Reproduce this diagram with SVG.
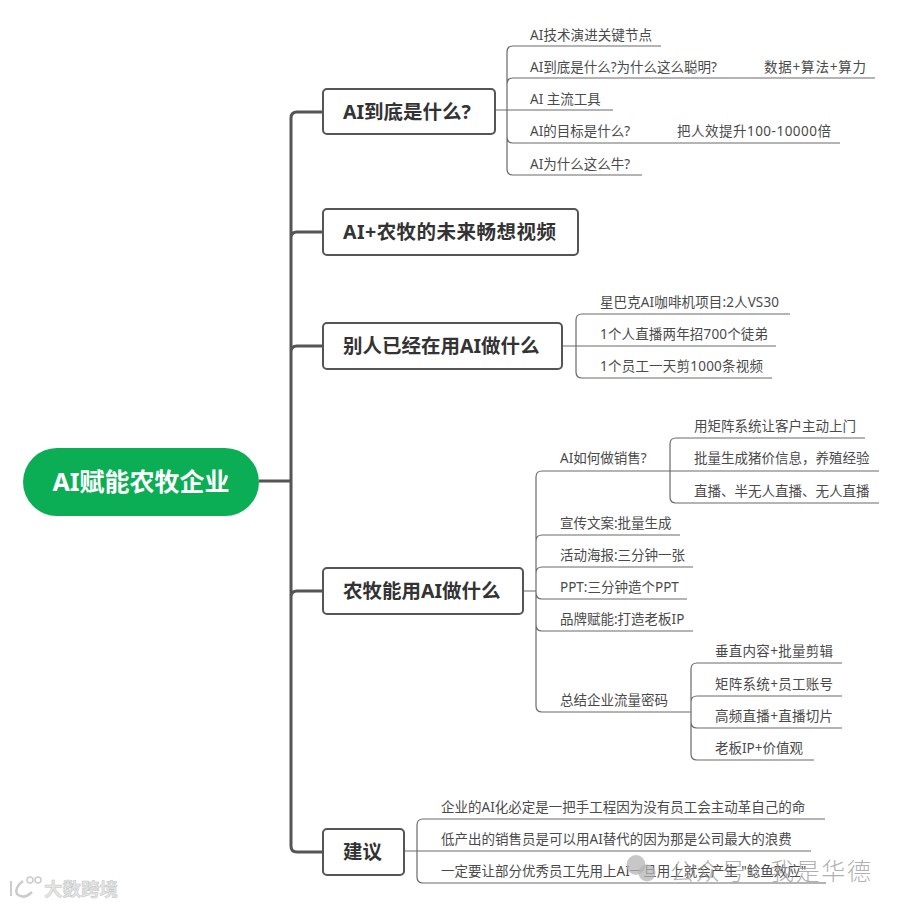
<svg xmlns="http://www.w3.org/2000/svg" width="900" height="906" viewBox="0 0 900 906">
<style>
text{font-family:"Noto Sans","Noto Sans CJK SC",sans-serif}
.t{font-size:13.5px;fill:#4a4a4a}
.h{font-size:19.5px;font-weight:700;fill:#333}
.n{fill:#fff;stroke:#555;stroke-width:2}
.l{fill:none;stroke:#6a6a6a;stroke-width:1.2}
.m{fill:none;stroke:#555;stroke-width:3}
</style>
<rect width="900" height="906" fill="#fff"/>
<g id="connectors">
<path class="m" d="M323 112H297Q291 112 291 118V846Q291 852 297 852H323M291 238Q291 232 297 232H323M291 352Q291 346 297 346H323M291 597Q291 591 297 591H323M259 481H291"/>
<path class="l" d="M495 110H613M661 46H513Q507 46 507 52V169Q507 175 513 175H642M507 84Q507 78 513 78H875M507 137Q507 143 513 143H840"/>
<path class="l" d="M562 346H776M790 314H582Q576 314 576 320V372Q576 378 582 378H772"/>
<path class="l" d="M523 591H536M879 471H542Q536 471 536 477V706Q536 712 542 712H691M536 541Q536 535 542 535H680M536 573Q536 567 542 567H693M536 593Q536 599 542 599H687M536 625Q536 631 542 631H693"/>
<path class="l" d="M865 438H676Q670 438 670 444V497Q670 503 676 503H879"/>
<path class="l" d="M842 663H697Q691 663 691 669V754Q691 760 697 760H814M691 702Q691 696 697 696H842M691 722Q691 728 697 728H842"/>
<path class="l" d="M404 851H811M825 819H423Q417 819 417 825V877Q417 883 423 883H826"/>
</g>
<g id="root"><rect x="23" y="448" width="236" height="68" rx="34" fill="#0bae55"/><text x="141" y="491" text-anchor="middle" font-size="25" font-weight="700" fill="#fff">AI赋能农牧企业</text></g>
<g id="n1"><rect class="n" x="323" y="89" width="172" height="45" rx="4"/><text class="h" x="343" y="119">AI到底是什么?</text></g>
<g id="n2"><rect class="n" x="323" y="209" width="255" height="46" rx="4"/><text class="h" x="343" y="239" textLength="213">AI+农牧的未来畅想视频</text></g>
<g id="n3"><rect class="n" x="323" y="323" width="239" height="46" rx="4"/><text class="h" x="343" y="353">别人已经在用AI做什么</text></g>
<g id="n4"><rect class="n" x="323" y="568" width="200" height="46" rx="4"/><text class="h" x="343" y="598">农牧能用AI做什么</text></g>
<g id="n5"><rect class="n" x="323" y="829" width="81" height="46" rx="4"/><text class="h" x="343" y="859">建议</text></g>
<g id="n1-children">
<text class="t" x="530" y="40" textLength="122">AI技术演进关键节点</text>
<text class="t" x="530" y="72">AI到底是什么?为什么这么聪明?</text>
<text class="t" x="764" y="72" textLength="102">数据+算法+算力</text>
<text class="t" x="530" y="104">AI 主流工具</text>
<text class="t" x="530" y="136">AI的目标是什么?</text>
<text class="t" x="677" y="136" textLength="154">把人效提升100-10000倍</text>
<text class="t" x="530" y="169">AI为什么这么牛?</text>
</g>
<g id="n3-children">
<text class="t" x="600" y="307" textLength="179">星巴克AI咖啡机项目:2人VS30</text>
<text class="t" x="600" y="339" textLength="168">1个人直播两年招700个徒弟</text>
<text class="t" x="600" y="371" textLength="163">1个员工一天剪1000条视频</text>
</g>
<g id="n4-children">
<text class="t" x="560" y="463">AI如何做销售?</text>
<text class="t" x="560" y="528">宣传文案:批量生成</text>
<text class="t" x="560" y="560">活动海报:三分钟一张</text>
<text class="t" x="560" y="592">PPT:三分钟造个PPT</text>
<text class="t" x="560" y="624">品牌赋能:打造老板IP</text>
<text class="t" x="560" y="705">总结企业流量密码</text>
<text class="t" x="694" y="431">用矩阵系统让客户主动上门</text>
<text class="t" x="694" y="463">批量生成猪价信息，养殖经验</text>
<text class="t" x="694" y="496">直播、半无人直播、无人直播</text>
<text class="t" x="715" y="656" textLength="118">垂直内容+批量剪辑</text>
<text class="t" x="715" y="689" textLength="118">矩阵系统+员工账号</text>
<text class="t" x="715" y="721" textLength="118">高频直播+直播切片</text>
<text class="t" x="715" y="753">老板IP+价值观</text>
</g>
<g id="n5-children">
<text class="t" x="441" y="812">企业的AI化必定是一把手工程因为没有员工会主动革自己的命</text>
<text class="t" x="441" y="844">低产出的销售员是可以用AI替代的因为那是公司最大的浪费</text>
<text class="t" x="441" y="876">一定要让部分优秀员工先用上AI一旦用上就会产生 "鲶鱼效应"</text>
</g>
<g id="watermarks">
<ellipse cx="636" cy="865" rx="9.5" ry="10" fill="#b4b4b4" fill-opacity=".75"/><ellipse cx="647" cy="873" rx="8.5" ry="8.5" fill="#b4b4b4" fill-opacity=".75"/>
<text x="670" y="880" font-size="24" font-weight="300" fill="#9a9a9a" fill-opacity=".8" textLength="201">公众号 · 我是华德</text>
<g fill="none" stroke="#ccc">
<path d="M11 881V896" stroke-width="2"/>
<path d="M23 881Q14 888 17 894Q24 900 32 892" stroke-width="2.5"/>
<circle cx="30" cy="880" r="3" stroke-width="1.5"/><circle cx="38" cy="880" r="3" stroke-width="1.5"/>
</g>
<text x="44" y="896" font-size="18.5" font-weight="700" fill="#e6e6e6" stroke="#c4c4c4" stroke-width=".5">大数跨境</text>
</g>
</svg>
